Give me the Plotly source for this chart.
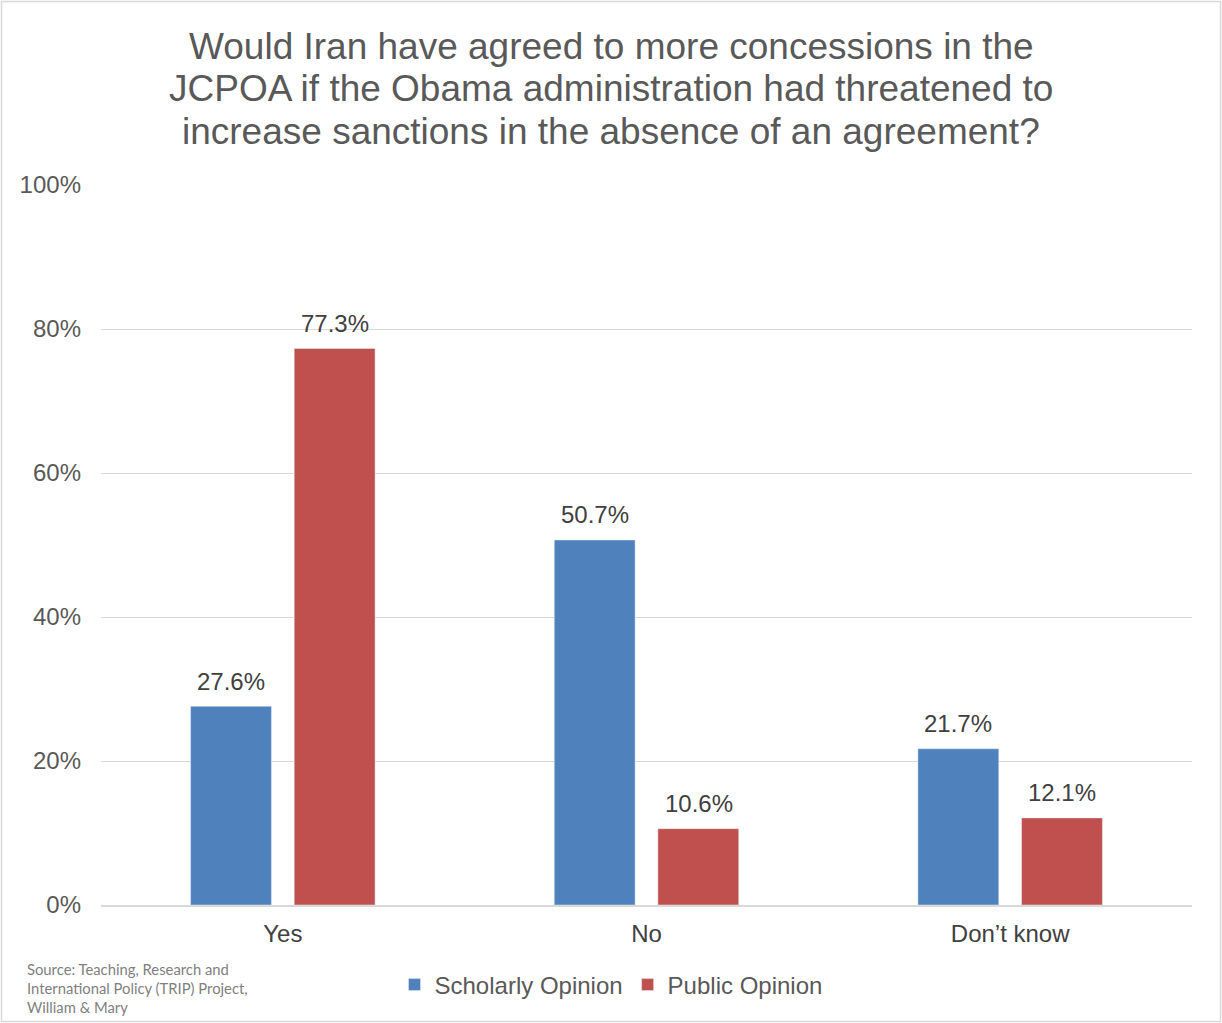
import plotly.graph_objects as go

categories = ["Yes", "No", "Don\u2019t know"]
scholarly = [27.6, 50.7, 21.7]
public = [77.3, 10.6, 12.1]
y_ticks = [0, 20, 40, 60, 80, 100]
y_tick_labels = ["0%", "20%", "40%", "60%", "80%", "100%"]
title_lines = [
    "Would Iran have agreed to more concessions in the",
    "JCPOA if the Obama administration had threatened to",
    "increase sanctions in the absence of an agreement?",
]

BLUE = "#4F81BD"
RED = "#C0504D"
TXT = "#595959"
FONT = "Liberation Sans, Arial, sans-serif"

W, H = 1222, 1023
L, R, T, B = 101, 30, 185, 118
pw, ph = W - L - R, H - T - B

fig = go.Figure()
fig.add_trace(go.Bar(x=categories, y=scholarly, name="Scholarly Opinion", marker_color=BLUE))
fig.add_trace(go.Bar(x=categories, y=public, name="Public Opinion", marker_color=RED))

annotations = []
for vals, shift in ((scholarly, -52), (public, 52)):
    for c, v in zip(categories, vals):
        annotations.append(dict(x=c, y=v, xref="x", yref="y", text=f"{v:.1f}%",
                                showarrow=False, xshift=shift, yshift=25,
                                font=dict(family=FONT, size=24, color="#404040")))

annotations.append(dict(
    x=(25 - L) / pw, y=(H - B - 958) / ph, xref="paper", yref="paper",
    xanchor="left", yanchor="top", align="left", showarrow=False,
    text="Source: Teaching, Research and<br>International Policy (TRIP) Project,<br>William &amp; Mary",
    font=dict(family="Lato, Open Sans, sans-serif", size=14.8, color="#7f7f7f")))

for i, line in enumerate(title_lines):
    annotations.append(dict(
        x=(611 - L) / pw, y=(H - B - (46 + 42.5 * i)) / ph, xref="paper", yref="paper",
        xanchor="center", yanchor="middle", showarrow=False,
        text=line, font=dict(family=FONT, size=37, color=TXT)))

fig.update_layout(
    width=W, height=H,
    margin=dict(l=L, r=R, t=T, b=B),
    paper_bgcolor="white", plot_bgcolor="white",
    barmode="group", bargap=0.43, bargroupgap=0.22,
    annotations=annotations,
    showlegend=True,
    legend=dict(orientation="h", x=(611 - L) / pw, xanchor="center",
                y=(H - B - 985) / ph, yanchor="middle",
                font=dict(family=FONT, size=24, color=TXT),
                itemwidth=30, tracegroupgap=0),
    font=dict(family=FONT, color=TXT),
    shapes=[dict(type="rect", xref="paper", yref="paper",
                 x0=(1.5 - L) / pw, x1=(1220.5 - L) / pw,
                 y0=(H - B - 1021.5) / ph, y1=(H - B - 1.5) / ph,
                 line=dict(color="#d9d9d9", width=1.5), fillcolor="rgba(0,0,0,0)", layer="below")],
)
fig.update_yaxes(range=[0, 100], tickvals=y_ticks, ticktext=y_tick_labels,
                 showgrid=True, gridcolor="#d9d9d9", gridwidth=1,
                 zeroline=False, showline=False,
                 tickfont=dict(family=FONT, size=24, color=TXT), ticklabelstandoff=19)
fig.update_xaxes(showline=True, linecolor="#d9d9d9", linewidth=1.5,
                 tickfont=dict(family=FONT, size=24, color="#404040"), ticks="",
                 ticklabelstandoff=6)

fig.write_html("out.html", config={"displayModeBar": False},
               post_script="document.body.style.margin='0';")
